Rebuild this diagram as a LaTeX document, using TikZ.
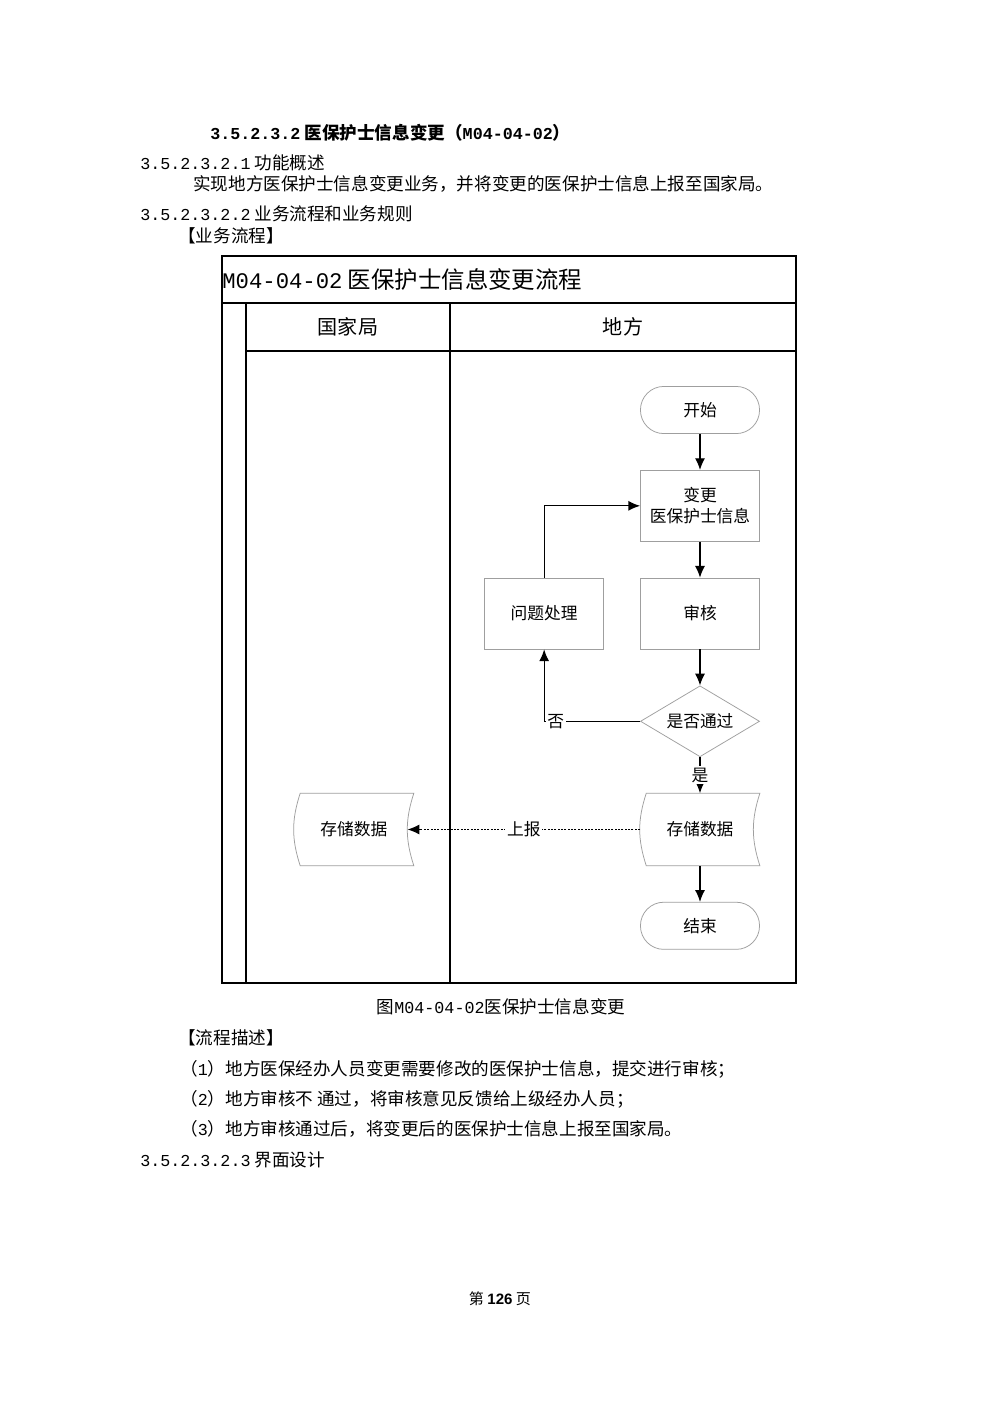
\documentclass[tikz,border=0pt]{standalone}
\usepackage{fontspec}
\setmainfont{Noto Sans CJK SC}
\newfontfamily\halfw{Liberation Mono}[Scale=0.95]
\newfontfamily\arialf{Liberation Sans}
\usepackage{tikz}
\usetikzlibrary{arrows.meta,shapes,positioning}
\newcommand{\hw}[1]{{\halfw #1}}
\newcommand{\bulge}{0.13cm}
\tikzset{
    body text/.style={anchor=west, inner sep=0pt, font=\fontsize{10.5pt}{12pt}\selectfont},
    frame line/.style={draw, black, line width=0.8pt},
    raw chart entry/.style={draw=gray!75, line width=0.45pt, align=center, font=\fontsize{10pt}{12.5pt}\selectfont, minimum width=2.5cm},
    terminal/.style={raw chart entry, rectangle, rounded corners=0.49cm, minimum height=0.99cm},
    process/.style={raw chart entry, rectangle, minimum height=1.49cm},
    decision/.style={raw chart entry, diamond, aspect=1.68, inner sep=0pt, minimum height=1.49cm},
    store/.style={raw chart entry, draw=none, minimum height=1.51cm},
    flow/.style={->, black, line width=0.75pt},
    flow label/.style={fill=white, inner sep=1pt, font=\fontsize{10pt}{12pt}\selectfont}
}

\begin{document}
\begin{tikzpicture}[x=0.021cm, y=-0.021cm, node distance=0.756cm, >={Latex[length=7pt,width=6pt]}]
	\useasboundingbox[fill=white] (0,0) rectangle (1000,1415);
	% text of the page
	\node[body text, font=\fontsize{10.5pt}{12pt}\selectfont\bfseries] (h1) at (210,133) {\hw{3.5.2.3.2} 医保护士信息变更（\hw{M04-04-02}）};
	\node[body text] (s1) at (140,163) {\hw{3.5.2.3.2.1} 功能概述};
	\node[body text] (p1) at (193,184) {实现地方医保护士信息变更业务，并将变更的医保护士信息上报至国家局。};
	\node[body text] (s2) at (140,214) {\hw{3.5.2.3.2.2} 业务流程和业务规则};
	\node[body text] (p2) at (178,236) {【业务流程】};
	% pool and lanes
	\draw[frame line] (222,256) rectangle (796,983);
	\draw[frame line] (222,303) -- (796,303);
	\draw[frame line] (246,351) -- (796,351);
	\draw[frame line] (246,303) -- (246,983);
	\draw[frame line] (450,303) -- (450,983);
	\node[anchor=west, inner sep=0pt, font=\fontsize{14pt}{16pt}\selectfont] (pool) at (222,280) {\hw{M04-04-02} 医保护士信息变更流程};
	\node[font=\fontsize{12pt}{14pt}\selectfont] (lane1) at (348,327) {国家局};
	\node[font=\fontsize{12pt}{14pt}\selectfont] (lane2) at (623,327) {地方};
	% flow chart
	\node[terminal] (start) at (700,410) {开始};
	\node[process, below=of start] (chg) {变更\\医保护士信息};
	\node[process, below=of chg] (chk) {审核};
	\node[process, left=of chk] (fix) {问题处理};
	\node[decision, below=of chk] (pass) {是否通过};
	\node[store, below=of pass] (st2) {存储数据};
	\node[store, left=4.75cm of st2] (st1) {存储数据};
	\node[terminal, below=of st2] (end) {结束};
	\foreach \s in {st1,st2}
		\draw[gray!75, line width=0.45pt] ([xshift=\bulge]\s.north west) to[bend right=18] ([xshift=\bulge]\s.south west) -- (\s.south east) to[bend left=18] (\s.north east) -- cycle;
	\draw[flow] (start) -- (chg);
	\draw[flow] (chg) -- (chk);
	\draw[flow] (chk) -- (pass);
	\draw[flow] (pass.west) -| node[flow label, pos=0.44] {否} (fix.south);
	\draw[flow] (fix.north) |- (chg.west);
	\draw[flow] (pass.south) -- node[flow label] {是} (st2.north);
	\draw[flow, line width=0.6pt, dash pattern=on 1.2pt off 0.8pt] (st2.west) -- node[flow label] {上报} ([xshift=-\bulge]st1.east);
	\draw[flow] (st2) -- (end);
	% text below the chart
	\node[body text, anchor=center] (cap) at (501,1007) {图\hw{M04-04-02}医保护士信息变更};
	\node[body text] (p3) at (178,1038) {【流程描述】};
	\node[body text] (l1) at (180,1069) {（\hw{1}）地方医保经办人员变更需要修改的医保护士信息，提交进行审核；};
	\node[body text] (l2) at (180,1099) {（\hw{2}）地方审核不 通过，将审核意见反馈给上级经办人员；};
	\node[body text] (l3) at (180,1129) {（\hw{3}）地方审核通过后，将变更后的医保护士信息上报至国家局。};
	\node[body text] (s3) at (140,1160) {\hw{3.5.2.3.2.3} 界面设计};
	\node[font=\fontsize{9pt}{11pt}\selectfont] (foot) at (500,1299) {第 {\arialf\bfseries 126} 页};
\end{tikzpicture}
\end{document}
